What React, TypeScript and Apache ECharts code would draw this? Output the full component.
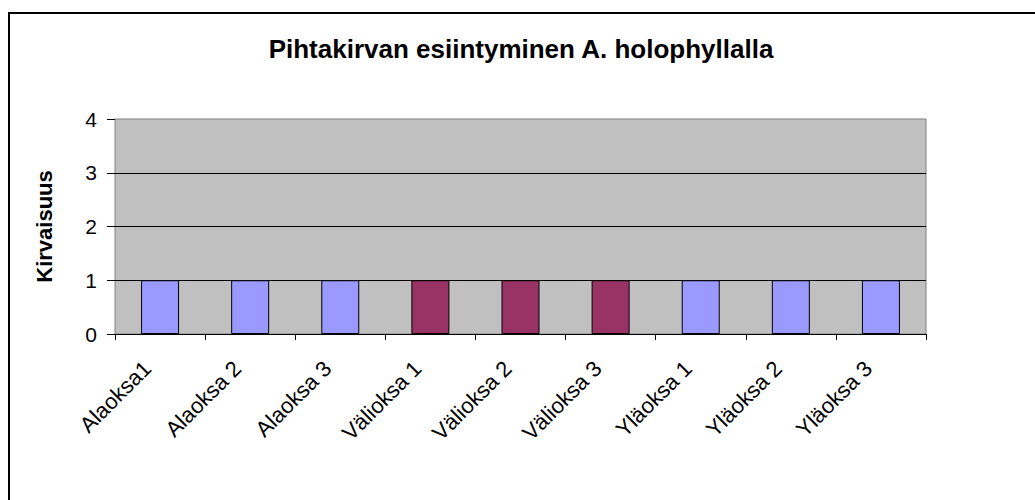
import React, { useEffect, useRef } from "react";
import * as echarts from "echarts";

const title = "Pihtakirvan esiintyminen A. holophyllalla";
const yAxisName = "Kirvaisuus";
const categories = [
  "Alaoksa1",
  "Alaoksa 2",
  "Alaoksa 3",
  "Välioksa 1",
  "Välioksa 2",
  "Välioksa 3",
  "Yläoksa 1",
  "Yläoksa 2",
  "Yläoksa 3",
];
const values = [1, 1, 1, 1, 1, 1, 1, 1, 1];
const groups = ["ala", "ala", "ala", "vali", "vali", "vali", "yla", "yla", "yla"];
const yTicks = [0, 1, 2, 3, 4];

const groupColors: Record<string, string> = {
  ala: "#9999FF",
  vali: "#993366",
  yla: "#9999FF",
};

const FONT = "'Liberation Sans', Arial, sans-serif";

export default function App() {
  const ref = useRef<HTMLDivElement>(null);
  useEffect(() => {
    document.body.style.margin = "0";
    if (!ref.current) return;
    const chart = echarts.init(ref.current, null, { renderer: "svg" });
    chart.setOption({
      animation: false,
      backgroundColor: "#FFFFFF",
      textStyle: { fontFamily: FONT },
      title: {
        text: title,
        left: 516,
        textAlign: "center",
        top: 31,
        textStyle: { fontFamily: FONT, fontSize: 26, fontWeight: "bold", color: "#000" },
      },
      graphic: [
        {
          type: "rect",
          shape: { x: 9, y: 13, width: 1200, height: 700 },
          style: { fill: "none", stroke: "#000", lineWidth: 2 },
          silent: true,
          z: 100,
        },
      ],
      grid: {
        left: 115,
        top: 119,
        right: 109,
        bottom: 166,
        show: true,
        backgroundColor: "#C0C0C0",
        borderColor: "#808080",
        borderWidth: 1,
      },
      xAxis: {
        type: "category",
        data: categories,
        axisLine: { show: true, lineStyle: { color: "#000", width: 1 } },
        axisTick: { show: true, length: 6, lineStyle: { color: "#000" } },
        axisLabel: {
          rotate: 45,
          interval: 0,
          margin: 18,
          padding: [0, 18, 0, 0],
          fontSize: 22,
          fontFamily: FONT,
          color: "#000",
        },
        splitLine: { show: false },
      },
      yAxis: {
        type: "value",
        min: yTicks[0],
        max: yTicks[yTicks.length - 1],
        interval: 1,
        name: yAxisName,
        nameLocation: "middle",
        nameGap: 60,
        nameTextStyle: { fontFamily: FONT, fontSize: 22, fontWeight: "bold", color: "#000" },
        axisLine: { show: false },
        axisTick: { show: true, length: 8, lineStyle: { color: "#000" } },
        axisLabel: { margin: 18, fontSize: 21, fontFamily: FONT, color: "#000" },
        splitLine: {
          show: true,
          showMinLine: false,
          showMaxLine: false,
          lineStyle: { color: "#000", width: 1 },
        },
      },
      series: [
        {
          type: "bar",
          barWidth: 38,
          data: values.map((v, i) => ({
            value: v,
            itemStyle: { color: groupColors[groups[i]], borderColor: "#000", borderWidth: 1 },
          })),
        },
      ],
    });
    return () => chart.dispose();
  }, []);
  return <div ref={ref} style={{ width: 1035, height: 500 }} />;
}
